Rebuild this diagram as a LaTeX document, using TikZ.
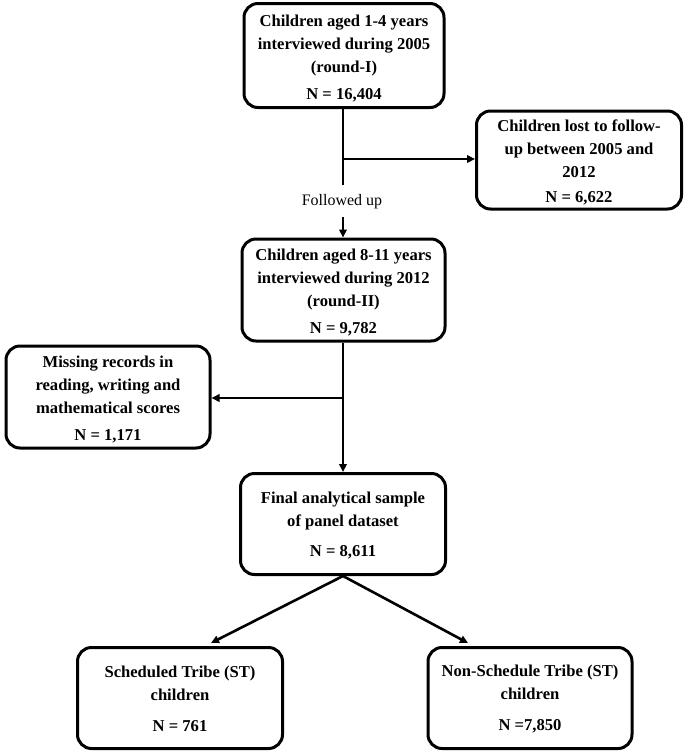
\documentclass[tikz,border=0pt]{standalone}
\usepackage{fontspec}
\setmainfont{Liberation Serif}
\usetikzlibrary{arrows.meta}
\newcommand{\topstrut}[1]{\rule{0pt}{#1}}
\begin{document}
\begin{tikzpicture}[x=1pt,y=-1pt,
  flowbox/.style={draw=black, line width=3pt, rounded corners=14pt, inner sep=0pt,
    align=center, font=\fontsize{16.6}{23}\selectfont\bfseries, anchor=center},
  conn/.style={line width=2.6pt},
  arr/.style={conn, -{Triangle[length=8pt,width=7.5pt]}}
]
\useasboundingbox (0,0) rectangle (685,753);
\node[flowbox, minimum width=200pt, minimum height=104pt] (b1) at (344,55.5)
  {\topstrut{17pt}Children aged 1-4 years\\interviewed during 2005\\(round-I)\\[4pt]N = 16,404};
\node[flowbox, minimum width=205pt, minimum height=98pt] (b2) at (579,160)
  {\topstrut{17pt}Children lost to follow-\\up between 2005 and\\2012\\[2pt]N = 6,622};
\node[font=\fontsize{16}{19}\selectfont, inner sep=0pt] (f) at (342,202) {Followed up};
\node[flowbox, minimum width=203pt, minimum height=102pt] (b3) at (343.5,290)
  {\topstrut{17pt}Children aged 8-11 years\\interviewed during 2012\\(round-II)\\[4pt]N = 9,782};
\node[flowbox, minimum width=204pt, minimum height=102pt] (b4) at (108,397)
  {\topstrut{17pt}Missing records in\\reading, writing and\\mathematical scores\\[4pt]N = 1,171};
\node[flowbox, minimum width=205pt, minimum height=101pt] (b5) at (343,524)
  {\topstrut{14pt}Final analytical sample\\of panel dataset\\[7pt]N = 8,611};
\node[flowbox, minimum width=205pt, minimum height=101pt] (b6) at (180,698)
  {\topstrut{14pt}Scheduled Tribe (ST)\\children\\[8pt]N = 761};
\node[flowbox, minimum width=204pt, minimum height=101pt] (b7) at (530,698)
  {\topstrut{14pt}Non-Schedule Tribe (ST)\\children\\[8pt]N =7,850};
\coordinate (f1) at (343,185);
\coordinate (f2) at (343,217);
\coordinate (j1) at (343,159);
\coordinate (j2) at (343,398);
\coordinate (t1) at (211,643);
\coordinate (t2) at (468,643);
\draw[conn] (b1.south -| f1) -- (f1);
\draw[arr] (j1) -- (b2.west |- j1);
\draw[arr] (f2) -- (b3.north -| f2);
\draw[arr] (b3.south -| j2) -- (b5.north -| j2);
\draw[arr] (j2) -- (b4.east |- j2);
\draw[arr] (b5.south) -- (t1);
\draw[arr] (b5.south) -- (t2);
\end{tikzpicture}
\end{document}
